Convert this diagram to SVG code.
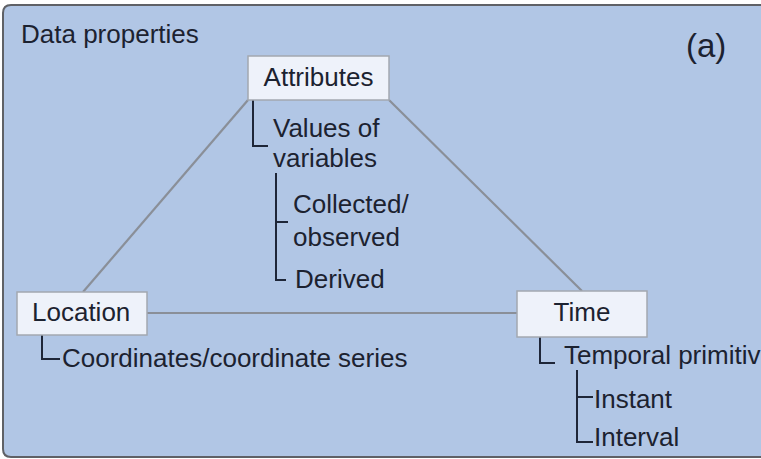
<svg xmlns="http://www.w3.org/2000/svg" width="761" height="459" viewBox="0 0 761 459">
<style>
text{font-family:"Liberation Sans",Arial,sans-serif;font-size:26px;fill:#1c2230}
text.big{font-size:33px}
.box{fill:#eef2fa;stroke:#a3a8b0;stroke-width:1.5}
.edge{stroke:#8a8f98;stroke-width:2.2;fill:none}
.tree{stroke:#1e2638;stroke-width:2;fill:none}
</style>
<rect width="761" height="459" fill="#ffffff"/>
<g id="panel">
<path d="M775,5 H11 Q3,5 3,13 V449 Q3,457 11,457 H775" fill="#b1c6e5" stroke="#5f6166" stroke-width="2"/>
<text x="21" y="43">Data properties</text>
<text class="big" x="686" y="57">(a)</text>
</g>
<g id="connectors">
<line class="edge" x1="248" y1="100" x2="83" y2="292"/>
<line class="edge" x1="389" y1="100" x2="582" y2="291"/>
<line class="edge" x1="147" y1="313" x2="517" y2="313"/>
<path class="tree" d="M253,100 V146 H268"/>
<path class="tree" d="M276,173 V280 H286 M276,222 H288"/>
<path class="tree" d="M42,335 V359 H60"/>
<path class="tree" d="M540,337 V363 H555"/>
<path class="tree" d="M577,370 V442 H593 M577,397 H593"/>
</g>
<g id="attributes">
<rect class="box" x="248" y="56" width="141" height="44"/>
<text x="318.5" y="86" text-anchor="middle">Attributes</text>
<text x="273" y="137">Values of</text>
<text x="273" y="167">variables</text>
<text x="293" y="213">Collected/</text>
<text x="293" y="246">observed</text>
<text x="295" y="288">Derived</text>
</g>
<g id="location">
<rect class="box" x="17" y="292" width="130" height="43"/>
<text x="32" y="321">Location</text>
<text x="62" y="367">Coordinates/coordinate series</text>
</g>
<g id="time">
<rect class="box" x="517" y="291" width="130" height="46"/>
<text x="582" y="321" text-anchor="middle">Time</text>
<text x="564" y="364">Temporal primitives</text>
<text x="594" y="408">Instant</text>
<text x="594" y="446">Interval</text>
</g>
</svg>
